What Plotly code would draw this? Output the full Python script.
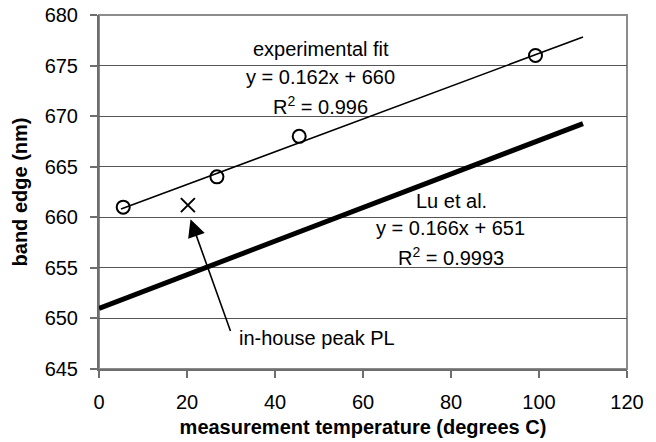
import plotly.graph_objects as go

# measured data (experimental)
meas_temp = [5.5, 26.8, 45.5, 99.2]
meas_edge = [661.0, 664.0, 668.0, 676.0]

# in-house peak PL point
pl_temp = [20.2]
pl_edge = [661.2]

# fit lines
fit_x = [5.0, 110.0]
fit_slope, fit_icpt = 0.162, 660
lu_x = [0.0, 110.0]
lu_slope, lu_icpt = 0.166, 651

x_ticks = [0, 20, 40, 60, 80, 100, 120]
y_ticks = [645, 650, 655, 660, 665, 670, 675, 680]

FONT = "Liberation Sans, Arial, sans-serif"

fig = go.Figure()

fig.add_trace(go.Scatter(
    x=lu_x, y=[lu_slope * v + lu_icpt for v in lu_x], mode="lines",
    line=dict(color="black", width=5), showlegend=False, name="Lu et al."))
fig.add_trace(go.Scatter(
    x=fit_x, y=[fit_slope * v + fit_icpt for v in fit_x], mode="lines",
    line=dict(color="black", width=1.6), showlegend=False, name="experimental fit"))
fig.add_trace(go.Scatter(
    x=meas_temp, y=meas_edge, mode="markers",
    marker=dict(symbol="circle-open", size=13, color="black", line=dict(width=2, color="black")),
    showlegend=False, name="measured"))
fig.add_trace(go.Scatter(
    x=pl_temp, y=pl_edge, mode="markers",
    marker=dict(symbol="x-thin-open", size=14, color="black", line=dict(width=2, color="black")),
    showlegend=False, name="in-house peak PL"))

ann_font = dict(family=FONT, size=20, color="black")
anns = [
    dict(x=50.4, y=676.6, text="experimental fit"),
    dict(x=50.3, y=673.9, text="y = 0.162x + 660"),
    dict(x=50.3, y=671.1, text="R<sup>2</sup> = 0.996"),
    dict(x=80.2, y=661.6, text="Lu et al."),
    dict(x=79.8, y=658.9, text="y = 0.166x + 651"),
    dict(x=80.1, y=656.1, text="R<sup>2</sup> = 0.9993"),
]
for a in anns:
    fig.add_annotation(x=a["x"], y=a["y"], text=a["text"], showarrow=False,
                       xanchor="center", yanchor="middle", font=ann_font)

fig.add_annotation(x=31.4, y=648.1, text="in-house peak PL", showarrow=False,
                   xanchor="left", yanchor="middle", font=ann_font)
# arrow
fig.add_annotation(x=20.8, y=659.8, ax=30.0, ay=648.6, axref="x", ayref="y",
                   text="", showarrow=True, arrowhead=2, arrowsize=2.2,
                   arrowwidth=1.6, arrowcolor="black", standoff=0)

fig.add_shape(type="rect", xref="paper", yref="paper", x0=0, y0=0, x1=1, y1=1,
              line=dict(color="#8c8c8c", width=2), layer="below")

fig.update_layout(
    width=656, height=442,
    margin=dict(l=99, r=29, t=15, b=73),
    paper_bgcolor="white", plot_bgcolor="white",
    font=dict(family=FONT, size=20, color="black"),
    xaxis=dict(
        range=[0, 120], tickvals=x_ticks, showgrid=False, zeroline=False,
        automargin=False,
        showline=True, linecolor="#6e6e6e", linewidth=2,
        ticks="outside", ticklen=7, tickcolor="#6e6e6e", tickwidth=1.5,
        ticklabelstandoff=7,
        tickfont=dict(family=FONT, size=20, color="black"),
        title=dict(text="<b>measurement temperature (degrees C)</b>",
                   font=dict(family=FONT, size=20, color="black"), standoff=8),
    ),
    yaxis=dict(
        range=[645, 680], tickvals=y_ticks, showgrid=True, gridcolor="#555555",
        gridwidth=1, zeroline=False,
        automargin=False,
        showline=True, linecolor="#6e6e6e", linewidth=2,
        ticks="outside", ticklen=7, tickcolor="#6e6e6e", tickwidth=1.5,
        ticklabelstandoff=8,
        tickfont=dict(family=FONT, size=20, color="black"),
        title=dict(text="<b>band edge (nm)</b>",
                   font=dict(family=FONT, size=20, color="black"), standoff=12),
    ),
)

fig.write_html("out.html")
